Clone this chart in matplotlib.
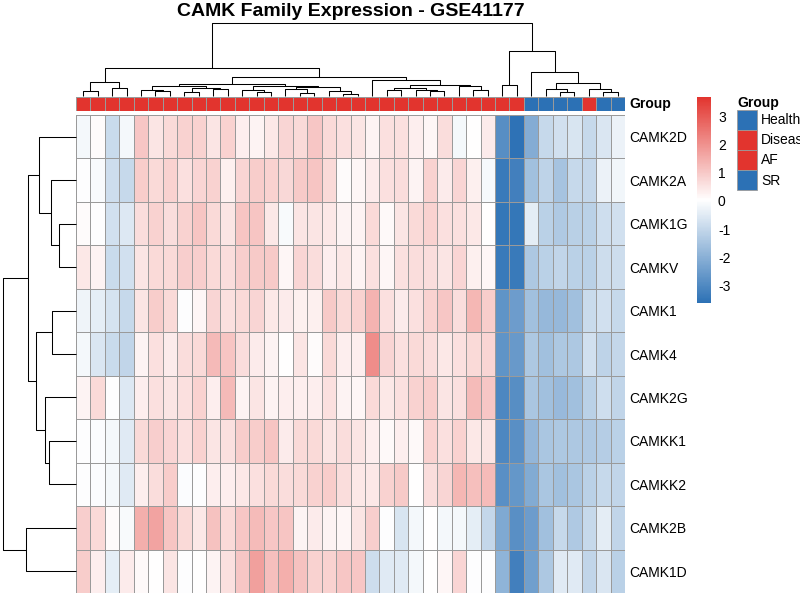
import numpy as np
import matplotlib
matplotlib.use('Agg')
import matplotlib.pyplot as plt
from matplotlib.colors import LinearSegmentedColormap, Normalize, ListedColormap
from matplotlib.patches import Patch
from matplotlib.cm import ScalarMappable

plt.rcParams['font.family'] = ['Liberation Sans', 'DejaVu Sans']
plt.rcParams['axes.unicode_minus'] = False

title = "CAMK Family Expression - GSE41177"
genes = ["CAMK2D", "CAMK2A", "CAMK1G", "CAMKV", "CAMK1", "CAMK4",
         "CAMK2G", "CAMKK1", "CAMKK2", "CAMK2B", "CAMK1D"]

# row-scaled expression, columns in dendrogram order (38 samples)
CAMK2D = [-0.15, 0.1, -0.9, -0.15, 1.05, 0.5, 0.7, 0.85, 0.85, 0.5, 0.85, 0.35, 0.25,
          0.45, 0.8, 0.7, 1.05, 0.7, 0.6, 0.5, 0.25, 0.6, 0.6, 0.35, 0.2, 0.65,
          -0.15, 0.05, 0.4, -2.9, -3.6, -2.1, -0.95, -0.75, -0.65, -0.95, -0.6, -0.3]
CAMK2A = [0.0, -0.1, -0.85, -0.95, 0.95, 0.7, 0.85, 0.6, 0.8, 0.85, 0.3, 0.8, 0.95,
          0.85, 0.75, 1.0, 1.1, 0.7, 0.1, 0.2, 0.4, 0.6, 0.65, 0.25, 0.85, 0.4,
          0.8, 0.3, -0.12, -3.4, -3.25, -1.6, -1.1, -1.5, -0.95, -1.0, -0.3, -0.2]
CAMK1G = [0.1, 0.0, -0.75, -0.55, 0.65, 0.85, 0.65, 0.85, 1.1, 0.7, 0.5, 1.1, 1.1,
          0.45, -0.1, 0.5, 0.5, 0.45, 0.25, 0.25, 0.7, 0.15, 0.5, 0.7, 0.85, 0.6,
          0.6, 0.45, 0.05, -3.5, -3.5, -0.45, -1.15, -1.35, -1.2, -1.15, -0.8, -0.75]
CAMKV = [0.45, 0.25, -0.9, -0.75, 0.5, 0.7, 0.7, 0.9, 0.9, 0.7, 0.65, 0.9, 1.0,
         1.0, 0.2, 0.8, 0.65, 0.35, 0.45, 0.25, 0.6, 0.2, 0.6, 0.65, 0.65, 0.5,
         0.8, 0.3, 0.2, -3.4, -3.4, -1.4, -1.15, -1.05, -1.15, -1.15, -0.85, -0.85]
CAMK1 = [-0.25, -0.4, -0.7, -0.95, 0.5, 0.95, 0.7, 0.0, 0.2, 0.8, 0.6, 0.7, 0.8,
         0.45, 0.4, 0.3, 0.3, 1.0, 0.7, 0.85, 1.4, 0.6, 0.4, 0.6, 0.85, 1.05,
         0.65, 1.35, 0.95, -2.75, -2.5, -1.6, -1.8, -1.8, -1.6, -0.9, -0.75, -0.95]
CAMK4 = [-0.15, -0.6, -0.9, -1.05, 0.25, 0.6, 0.4, 0.65, 0.7, 1.3, 1.1, 0.65, 0.4,
         0.25, 0.05, 0.5, 0.1, 0.7, 0.35, 0.35, 2.1, 0.8, 0.6, 0.7, 0.65, 0.45,
         0.6, 0.7, 0.8, -2.75, -2.6, -1.4, -1.6, -1.4, -1.4, -0.75, -1.1, -1.0]
CAMK2G = [0.25, 0.7, 0.0, -0.55, 0.35, 0.6, 0.5, 0.6, 0.85, 0.35, 1.3, 0.25, 0.5,
          0.25, 0.35, 0.35, 0.35, 0.6, 0.25, 0.2, 0.7, 0.45, 0.6, 0.85, 0.95, 0.5,
          0.6, 1.25, 1.05, -3.05, -2.9, -1.45, -1.6, -1.75, -1.6, -1.15, -0.8, -1.05]
CAMKK1 = [0.0, -0.05, -0.15, -0.5, 0.7, 0.9, 0.8, 0.6, 0.85, 0.5, 0.6, 0.95, 0.95,
          1.1, 0.4, 0.7, 0.7, 0.5, 0.65, 0.5, 0.35, 0.15, 0.35, 0.15, 0.85, 0.6,
          0.85, 0.45, 0.5, -3.05, -2.85, -1.85, -1.45, -1.4, -1.4, -1.35, -1.25, -1.15]
CAMKK2 = [0.0, -0.05, -0.15, -0.5, 0.35, 0.65, 0.95, -0.05, 0.0, 0.35, 0.35, 0.45, 0.6,
          0.7, 0.65, 0.7, 0.85, 0.95, 0.65, 0.45, 0.45, 0.85, 1.0, 0.05, 0.65, 0.8,
          1.35, 1.2, 1.25, -2.85, -2.65, -2.15, -1.45, -1.6, -1.45, -1.15, -0.95, -1.05]
CAMK2B = [0.9, 0.7, 0.1, -0.1, 1.5, 1.7, 1.1, 0.7, 0.45, 1.15, 0.7, 1.05, 1.25,
          1.05, 1.1, 0.25, 0.4, 0.25, 0.2, 0.5, 0.9, 0.0, -0.65, -0.15, 0.05, -0.15,
          -0.15, -0.4, -1.0, -2.2, -2.85, -2.5, -1.6, -0.95, -1.35, -0.95, -0.45, -1.05]
CAMK1D = [0.95, 0.35, -0.4, 0.4, 0.15, 0.05, 0.5, 0.0, 0.05, 0.25, 0.6, 1.05, 1.75,
          1.2, 1.5, 1.15, 0.85, 0.85, 1.05, 1.05, -0.85, -0.5, -0.5, -0.15, 0.05, 0.2,
          0.8, 0.0, 0.0, -1.9, -3.25, -2.45, -1.4, -0.5, -0.5, -1.05, -0.6, -1.15]

sample_group = (["AF"] * 31) + (["SR"] * 4) + ["AF"] + (["SR"] * 2)

legend_levels = ["Healthy", "Disease", "AF", "SR"]

# column dendrogram merges: (child a, child b, height); ids >= 38 are earlier merges
col_merges = [
    (0, 1, 5.3), (2, 3, 7.7), (38, 39, 14.3),
    (5, 6, 5.0), (4, 41, 6.3), (7, 8, 4.0), (9, 10, 6.7), (43, 44, 8.0), (42, 45, 9.7),
    (12, 13, 4.5), (11, 47, 6.5), (15, 16, 3.3), (14, 49, 7.5), (18, 19, 2.3),
    (17, 51, 4.7), (50, 52, 9.0), (48, 53, 10.5), (46, 54, 12.5),
    (21, 22, 5.7), (24, 25, 5.0), (23, 57, 6.0), (56, 58, 8.0), (27, 28, 5.7),
    (26, 60, 10.0), (59, 61, 10.7), (20, 62, 15.7), (55, 63, 19.0), (40, 64, 27.7),
    (29, 30, 11.5), (33, 34, 4.3), (32, 67, 6.7), (36, 37, 4.3), (35, 69, 6.7),
    (68, 70, 12.7), (31, 71, 23.7), (66, 72, 45.3), (65, 73, 73.3),
]
# row dendrogram merges; ids >= 11 are earlier merges
row_merges = [
    (2, 3, 16.7), (1, 11, 25.0), (0, 12, 36.7), (4, 5, 24.3), (7, 8, 26.7),
    (6, 15, 31.0), (14, 16, 40.3), (13, 17, 47.7), (9, 10, 50.3), (18, 19, 72.7),
]

mat = np.array([CAMK2D, CAMK2A, CAMK1G, CAMKV, CAMK1, CAMK4,
                CAMK2G, CAMKK1, CAMKK2, CAMK2B, CAMK1D])
n_rows, n_cols = mat.shape

BLUE = "#2C71B5"
RED = "#E2342E"
GRID = "#9A9A9A"
cmap = LinearSegmentedColormap.from_list("bwr_ph", [BLUE, "#FFFFFF", RED], N=256)
norm = Normalize(vmin=-3.65, vmax=3.72)
group_colors = {"AF": RED, "SR": BLUE, "Healthy": BLUE, "Disease": RED}

W, H = 800, 600
fig = plt.figure(figsize=(8, 6), dpi=100)


def px_axes(x0, y0, x1, y1):
    return fig.add_axes([x0 / W, 1 - y1 / H, (x1 - x0) / W, (y1 - y0) / H])


def draw_dendro(ax, n, merges, orient):
    pos = {i: i + 0.5 for i in range(n)}
    hgt = {i: 0.0 for i in range(n)}
    for k, (a, b, h) in enumerate(merges):
        xs = [pos[a], pos[a], pos[b], pos[b]]
        ys = [hgt[a], h, h, hgt[b]]
        if orient == "top":
            ax.plot(xs, ys, color="black", lw=0.75, clip_on=False, solid_capstyle="butt")
        else:
            ax.plot(ys, xs, color="black", lw=0.75, clip_on=False, solid_capstyle="butt")
        pos[n + k] = (pos[a] + pos[b]) / 2
        hgt[n + k] = h
    ax.axis("off")


HX0, HX1, HY0, HY1 = 76, 625, 115, 593

# heatmap
ax = px_axes(HX0, HY0, HX1, HY1)
ax.pcolormesh(np.arange(n_cols + 1), np.arange(n_rows + 1), mat, cmap=cmap, norm=norm,
              edgecolors=GRID, linewidth=0.6)
ax.set_xlim(0, n_cols)
ax.set_ylim(n_rows, 0)
for s in ax.spines.values():
    s.set_visible(False)
ax.set_xticks([])
ax.yaxis.tick_right()
ax.set_yticks(np.arange(n_rows) + 0.5)
ax.set_yticklabels(genes, fontsize=10)
ax.tick_params(axis="y", length=0, pad=3)

# annotation bar
gax = px_axes(HX0, 97, HX1, 111)
codes = np.array([[0 if g == "AF" else 1 for g in sample_group]])
gax.pcolormesh(np.arange(n_cols + 1), [0, 1], codes,
               cmap=ListedColormap([RED, BLUE]), vmin=0, vmax=1,
               edgecolors=GRID, linewidth=0.6)
gax.set_xlim(0, n_cols)
gax.set_ylim(0, 1)
gax.axis("off")
gax.annotate("Group", xy=(1, 0.5), xycoords="axes fraction", xytext=(4, 0),
             textcoords="offset pixels", ha="left", va="center",
             fontsize=10, fontweight="bold")

# column dendrogram
tax = px_axes(HX0, 22.7, HX1, 96)
draw_dendro(tax, n_cols, col_merges, "top")
tax.set_xlim(0, n_cols)
tax.set_ylim(0, col_merges[-1][2])

# row dendrogram
lax = px_axes(3.3, HY0, HX0, HY1)
draw_dendro(lax, n_rows, row_merges, "left")
lax.set_ylim(n_rows, 0)
lax.set_xlim(row_merges[-1][2], 0)

# colour legend
cax = px_axes(697, 96.7, 711, 303.3)
cb = fig.colorbar(ScalarMappable(norm=norm, cmap=cmap), cax=cax)
ticks = [-3, -2, -1, 0, 1, 2, 3]
cb.set_ticks(ticks)
cb.set_ticklabels([str(t) for t in ticks])
cb.outline.set_visible(False)
cax.tick_params(length=0, pad=5, labelsize=10)

# annotation legend
handles = [Patch(facecolor=group_colors[l], edgecolor=GRID, linewidth=0.6, label=l)
           for l in legend_levels]
leg = fig.legend(handles=handles, loc="upper left", bbox_to_anchor=(737 / W, 1 - 96 / H),
                 frameon=False, title="Group", fontsize=10,
                 title_fontproperties={"weight": "bold", "size": 10},
                 handlelength=1.42, handleheight=1.84, labelspacing=0,
                 handletextpad=0.3, borderpad=0, borderaxespad=0, alignment="left")

fig.text(350.5 / W, 1 - 11 / H, title, ha="center", va="center",
         fontsize=14, fontweight="bold")

fig.savefig("out.png", dpi=100)
